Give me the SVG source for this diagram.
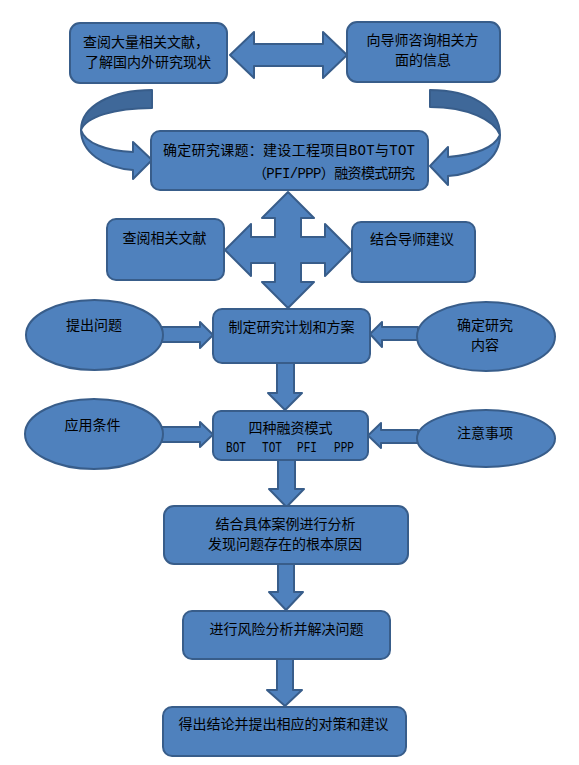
<svg xmlns="http://www.w3.org/2000/svg" width="579" height="765" viewBox="0 0 579 765">
<style>
.shape{fill:#4F81BD;stroke:#385D8A;stroke-width:2;stroke-linejoin:round}
.dark{fill:#3F6899;stroke:#385D8A;stroke-width:2;stroke-linejoin:round}
.t{font-family:"Noto Sans CJK SC","Noto Sans",sans-serif;font-size:14px;fill:#000}
.c{text-anchor:middle}
.m{font-family:"Liberation Mono",monospace}
</style>
<rect width="579" height="765" fill="#fff"/>
<g id="connectors">
<path class="shape" d="M230,55 L254,32 L254,44 L323,44 L323,32 L347,55 L323,78 L323,66 L254,66 L254,78 Z"/>
<path class="dark" d="M152,90 C112,90 81,106 81,130 C86,117 114,108 152,108 Z"/>
<path class="shape" d="M81,130 C81,152 104,168 133,170 L133,179 L152,160 L133,142 L133,152 C106,151 85,143 81,130 Z"/>
<path class="dark" d="M430,90 C470,90 500,107 500,135 C494,120 468,107 430,107 Z"/>
<path class="shape" d="M500,135 C500,158 478,174 448,176 L448,185 L430,166 L448,147 L448,157 C474,155 494,148 500,135 Z"/>
<path class="shape" d="M288,192 L314,218 L301,218 L301,237 L325,237 L325,224 L351,250 L325,276 L325,263 L301,263 L301,282 L314,282 L288,308 L262,282 L275,282 L275,263 L251,263 L251,276 L225,250 L251,224 L251,237 L275,237 L275,218 L262,218 Z"/>
<path class="shape" d="M162,327 L200,327 L200,322 L213,335 L200,348 L200,342 L162,342 Z"/>
<path class="shape" d="M162,427 L200,427 L200,422 L213,434.5 L200,447 L200,442 L162,442 Z"/>
<path class="shape" d="M370,334 L382,322 L382,327 L418,327 L418,340 L382,340 L382,347 Z"/>
<path class="shape" d="M368,435.5 L381,423 L381,430 L418,430 L418,443 L381,443 L381,448 Z"/>
<path class="shape" d="M277,363 L294,363 L294,393 L302,393 L285,410 L268,393 L277,393 Z"/>
<path class="shape" d="M278,460 L295,460 L295,489 L304,489 L286.5,507 L269,489 L278,489 Z"/>
<path class="shape" d="M278,564 L294,564 L294,592 L303,592 L286,610 L269,592 L278,592 Z"/>
<path class="shape" d="M277,659 L293,659 L293,690 L302,690 L285,706 L267,690 L277,690 Z"/>
</g>
<g id="n1"><rect class="shape" x="70" y="23" width="157" height="60" rx="10"/>
<text class="t" x="83" y="47">查阅大量相关文献，</text><text class="t" x="85" y="67">了解国内外研究现状</text></g>
<g id="n2"><rect class="shape" x="347" y="22" width="153" height="60" rx="10"/>
<text class="t c" x="422.5" y="45">向导师咨询相关方</text><text class="t c" x="423" y="65">面的信息</text></g>
<g id="n3"><rect class="shape" x="151" y="131" width="277" height="59" rx="9"/>
<text class="t" x="163" y="155" textLength="252" lengthAdjust="spacing">确定研究课题：建设工程项目<tspan class="m">BOT</tspan>与<tspan class="m">TOT</tspan></text>
<text class="t" x="253" y="178" textLength="162" lengthAdjust="spacing">（<tspan class="m">PFI/PPP</tspan>）融资模式研究</text></g>
<g id="n4"><rect class="shape" x="107" y="219" width="117" height="61" rx="9"/>
<text class="t c" x="164.5" y="243">查阅相关文献</text></g>
<g id="n5"><rect class="shape" x="352" y="222" width="123" height="60" rx="9"/>
<text class="t c" x="412" y="244">结合导师建议</text></g>
<g id="n6"><ellipse class="shape" cx="94.5" cy="335" rx="68.5" ry="35"/>
<text class="t c" x="94" y="330">提出问题</text></g>
<g id="n7"><rect class="shape" x="213" y="309" width="157" height="54" rx="9"/>
<text class="t c" x="291.5" y="332">制定研究计划和方案</text></g>
<g id="n8"><ellipse class="shape" cx="486" cy="336.5" rx="69" ry="34.5"/>
<text class="t c" x="485" y="330">确定研究</text><text class="t c" x="485" y="350">内容</text></g>
<g id="n9"><ellipse class="shape" cx="94" cy="434" rx="69" ry="35"/>
<text class="t c" x="92.5" y="430">应用条件</text></g>
<g id="n10"><rect class="shape" x="213" y="411" width="155" height="49" rx="8"/>
<text class="t c" x="290.5" y="433">四种融资模式</text>
<text class="t m" x="226" y="452" textLength="20" lengthAdjust="spacingAndGlyphs">BOT</text>
<text class="t m" x="262" y="452" textLength="20" lengthAdjust="spacingAndGlyphs">TOT</text>
<text class="t m" x="297" y="452" textLength="20" lengthAdjust="spacingAndGlyphs">PFI</text>
<text class="t m" x="334" y="452" textLength="20" lengthAdjust="spacingAndGlyphs">PPP</text></g>
<g id="n11"><ellipse class="shape" cx="486" cy="438.5" rx="69" ry="28.5"/>
<text class="t c" x="485" y="438">注意事项</text></g>
<g id="n12"><rect class="shape" x="164" y="506" width="244" height="58" rx="10"/>
<text class="t c" x="285.5" y="529">结合具体案例进行分析</text><text class="t c" x="285" y="549">发现问题存在的根本原因</text></g>
<g id="n13"><rect class="shape" x="183" y="611" width="207" height="48" rx="9"/>
<text class="t c" x="286.5" y="634">进行风险分析并解决问题</text></g>
<g id="n14"><rect class="shape" x="163" y="707" width="243" height="49" rx="9"/>
<text class="t c" x="283.5" y="729">得出结论并提出相应的对策和建议</text></g>
</svg>
